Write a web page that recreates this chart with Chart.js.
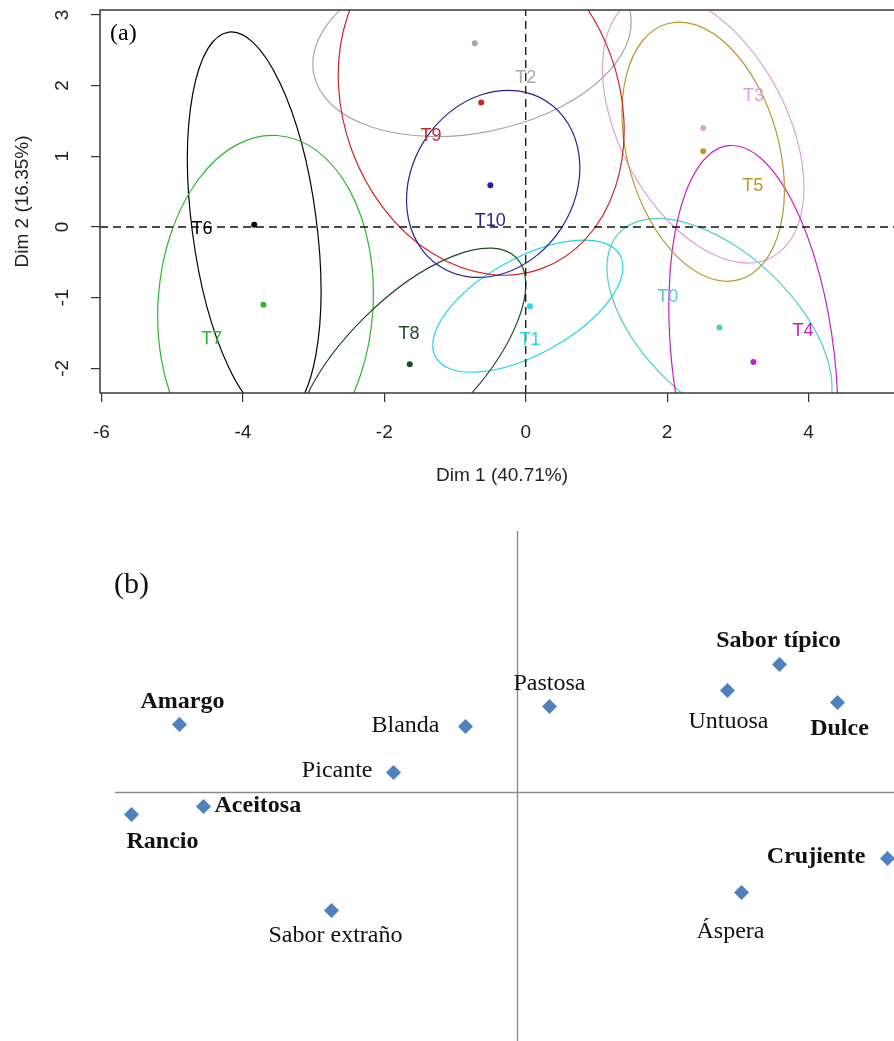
<!DOCTYPE html>
<html><head><meta charset="utf-8">
<script src="https://cdn.jsdelivr.net/npm/chart.js@4"></script>
<style>
html,body{margin:0;padding:0;background:#fff;overflow:hidden;width:894px;height:1041px;}
#wa{position:absolute;left:0;top:0;width:910px;height:500px;}
#wb{position:absolute;left:0;top:500px;width:894px;height:541px;}
</style></head><body>
<div id="wa"><canvas id="ca"></canvas></div>
<div id="wb"><canvas id="cb"></canvas></div>
<script>
// ---------------- Panel (a) data ----------------
const groups   = ['T0','T1','T2','T3','T4','T5','T6','T7','T8','T9','T10'];
const dim1     = [2.74, 0.06, -0.72, 2.51, 3.22, 2.51, -3.84, -3.71, -1.64, -0.63, -0.50];
const dim2     = [-1.42, -1.12, 2.60, 1.40, -1.91, 1.07, 0.03, -1.10, -1.94, 1.76, 0.59];
const labelDim1 = [2.01, 0.06, 0.00, 3.22, 3.92, 3.21, -4.58, -4.44, -1.65, -1.34, -0.50];
const labelDim2 = [-0.99, -1.60, 2.11, 1.85, -1.47, 0.58, -0.03, -1.59, -1.51, 1.28, 0.09];
// confidence ellipses: centre, semi-axes, orientation (deg)
const ellCx    = [2.74, 0.03, -0.76, 2.51, 3.22, 2.51, -3.84, -3.68, -1.64, -0.63, -0.46];
const ellCy    = [-1.42, -1.12, 2.60, 1.40, -1.91, 1.065, 0.03, -1.10, -1.94, 1.76, 0.61];
const ellA     = [1.95, 1.49, 2.28, 2.07, 3.08, 1.88, 2.75, 2.40, 2.13, 2.50, 1.39];
const ellB     = [1.05, 0.68, 1.27, 1.18, 1.15, 1.07, 0.88, 1.52, 0.92, 1.95, 1.15];
const ellAngle = [-43.3, 28.9, 11, 118, 96.6, 105.7, 97.5, 86, 45, 110, 57];
const groupColors = ['#4FCFC4','#22D8E6','#A8A8A8','#DDA0DD','#C81EC8','#B8982E','#000000','#2DB82D','#1F4A28','#CD2626','#22229A'];
const xTicks = [-6, -4, -2, 0, 2, 4];
const yTicks = [-2, -1, 0, 1, 2, 3];
const xRange = [-6.021, 5.35];
const yRange = [-2.348, 3.069];
const xTitle = 'Dim 1 (40.71%)';
const yTitle = 'Dim 2 (16.35%)';

// ---------------- Panel (b) data ----------------
const attributes = ['Amargo','Blanda','Picante','Aceitosa','Rancio','Sabor extraño','Pastosa','Untuosa','Sabor típico','Dulce','Crujiente','Áspera'];
const attrX = [-1.69, -0.26, -0.62, -1.57, -1.93, -0.93, 0.16, 1.05, 1.31, 1.60, 1.85, 1.12];
const attrY = [0.34, 0.33, 0.10, -0.07, -0.11, -0.59, 0.43, 0.51, 0.64, 0.45, -0.33, -0.50];
const attrBold = [true, false, false, true, true, false, false, false, true, true, true, false];
const bxRange = [-2.5875, 1.8825];
const byRange = [-1.2425, 1.4625];
const bAxisV = [1.3075, -1.2425];   // vertical axis line extent (y)
const bAxisH = [-2.0125, 1.8825];   // horizontal axis line extent (x)

// label placement (pixel offsets from marker, alignment)
const attrLabelPos = [
  [3,-17,'center'],[-26,5,'right'],[-21,4,'right'],[11,5,'left'],[-5,33,'left'],[4,31,'center'],
  [0,-17,'center'],[1,37,'center'],[-1,-18,'center'],[2,32,'center'],[-22,4,'right'],[-11,45,'center']
];

const SANS = "'Liberation Sans', Arial, Helvetica, sans-serif";
const SERIF = "'Liberation Serif', 'Times New Roman', Times, serif";

// ---------- Chart A ----------
const panelA = {
  id: 'panelA',
  beforeDatasetsDraw(chart) {
    const {ctx, chartArea: ca, scales: {x, y}} = chart;
    const sx = x.getPixelForValue(1) - x.getPixelForValue(0);
    const sy = y.getPixelForValue(0) - y.getPixelForValue(1);
    ctx.save();
    ctx.beginPath(); ctx.rect(ca.left, ca.top, ca.right - ca.left, ca.bottom - ca.top); ctx.clip();
    for (let i = 0; i < groups.length; i++) {
      ctx.save();
      ctx.translate(x.getPixelForValue(ellCx[i]), y.getPixelForValue(ellCy[i]));
      ctx.scale(sx, -sy);
      ctx.rotate(ellAngle[i] * Math.PI / 180);
      ctx.beginPath();
      ctx.ellipse(0, 0, ellA[i], ellB[i], 0, 0, Math.PI * 2);
      ctx.restore();
      ctx.strokeStyle = groupColors[i];
      ctx.lineWidth = 1.2;
      ctx.stroke();
    }
    ctx.restore();
  },
  afterDatasetsDraw(chart) {
    const {ctx, scales: {x, y}} = chart;
    ctx.save();
    ctx.font = '18px ' + SANS;
    ctx.textAlign = 'center'; ctx.textBaseline = 'middle';
    for (let i = 0; i < groups.length; i++) {
      ctx.fillStyle = groupColors[i];
      ctx.fillText(groups[i], x.getPixelForValue(labelDim1[i]), y.getPixelForValue(labelDim2[i]));
    }
    ctx.restore();
  },
  afterDraw(chart) {
    const {ctx, chartArea: ca, scales: {y}} = chart;
    ctx.save();
    ctx.strokeStyle = '#3a3a3a'; ctx.lineWidth = 1.5;
    ctx.strokeRect(ca.left, ca.top, ca.right - ca.left, ca.bottom - ca.top);
    ctx.fillStyle = '#222';
    ctx.font = '19px ' + SANS;
    ctx.textAlign = 'center'; ctx.textBaseline = 'middle';
    for (const v of yTicks) {
      ctx.save();
      ctx.translate(ca.left - 37, y.getPixelForValue(v));
      ctx.rotate(-Math.PI / 2);
      ctx.fillText(String(v), 0, 0);
      ctx.restore();
    }
    ctx.fillText(xTitle, (ca.left + ca.right) / 2, ca.bottom + 83);
    ctx.save();
    ctx.translate(ca.left - 77, (ca.top + ca.bottom) / 2);
    ctx.rotate(-Math.PI / 2);
    ctx.fillText(yTitle, 0, 0);
    ctx.restore();
    ctx.font = '24px ' + SERIF;
    ctx.fillStyle = '#000';
    ctx.textAlign = 'left';
    ctx.fillText('(a)', ca.left + 10, ca.top + 24);
    ctx.restore();
  }
};

new Chart(document.getElementById('ca'), {
  type: 'scatter',
  data: {
    datasets: [
      { type: 'line', data: [{x: xRange[0], y: 0}, {x: xRange[1], y: 0}], borderColor: '#111', borderWidth: 1.3, borderDash: [8, 5], pointRadius: 0, fill: false },
      { type: 'line', data: [{x: 0, y: yRange[0]}, {x: 0, y: yRange[1]}], borderColor: '#111', borderWidth: 1.3, borderDash: [8, 5], pointRadius: 0, fill: false },
      { data: groups.map((g, i) => ({x: dim1[i], y: dim2[i]})), pointRadius: 3, pointBackgroundColor: groupColors, pointBorderWidth: 0, showLine: false }
    ]
  },
  options: {
    responsive: true, maintainAspectRatio: false, animation: false, events: [],
    layout: { autoPadding: false, padding: { top: 10, right: 6, left: 0, bottom: 0 } },
    plugins: { legend: { display: false }, tooltip: { enabled: false } },
    scales: {
      x: {
        type: 'linear', min: xRange[0], max: xRange[1],
        afterBuildTicks: s => { s.ticks = xTicks.map(v => ({value: v})); },
        afterFit: s => { s.height = 107; },
        grid: { drawOnChartArea: false, drawTicks: true, tickLength: 9, color: '#333', lineWidth: 1.2 },
        border: { display: false },
        ticks: { font: { family: SANS, size: 19 }, color: '#222', padding: 19, maxRotation: 0 }
      },
      y: {
        type: 'linear', min: yRange[0], max: yRange[1],
        afterBuildTicks: s => { s.ticks = yTicks.map(v => ({value: v})); },
        afterFit: s => { s.width = 100; },
        grid: { drawOnChartArea: false, drawTicks: true, tickLength: 9, color: '#333', lineWidth: 1.2 },
        border: { display: false },
        ticks: { display: false }
      }
    }
  },
  plugins: [panelA]
});

// ---------- Chart B ----------
const panelB = {
  id: 'panelB',
  afterDatasetsDraw(chart) {
    const {ctx} = chart;
    const meta = chart.getDatasetMeta(2);
    ctx.save();
    ctx.fillStyle = '#111';
    ctx.textBaseline = 'alphabetic';
    meta.data.forEach((pt, i) => {
      const [dx, dy, al] = attrLabelPos[i];
      ctx.font = (attrBold[i] ? 'bold ' : '') + '24px ' + SERIF;
      ctx.textAlign = al;
      ctx.fillText(attributes[i], pt.x + dx, pt.y + dy);
    });
    ctx.font = '30px ' + SERIF;
    ctx.textAlign = 'left'; ctx.textBaseline = 'middle';
    ctx.fillText('(b)', 114, 85);
    ctx.restore();
  }
};

new Chart(document.getElementById('cb'), {
  type: 'scatter',
  data: {
    datasets: [
      { type: 'line', data: [{x: 0, y: bAxisV[0]}, {x: 0, y: bAxisV[1]}], borderColor: '#8c8c8c', borderWidth: 1.4, pointRadius: 0, fill: false, clip: false },
      { type: 'line', data: [{x: bAxisH[0], y: 0}, {x: bAxisH[1], y: 0}], borderColor: '#8c8c8c', borderWidth: 1.4, pointRadius: 0, fill: false, clip: false },
      { data: attributes.map((a, i) => ({x: attrX[i], y: attrY[i]})), pointStyle: 'rectRot', pointRadius: 7.5, pointBackgroundColor: '#4F81BD', pointBorderWidth: 0, showLine: false, clip: false }
    ]
  },
  options: {
    responsive: true, maintainAspectRatio: false, animation: false, events: [],
    layout: { autoPadding: false, padding: 0 },
    plugins: { legend: { display: false }, tooltip: { enabled: false } },
    scales: {
      x: { type: 'linear', display: false, min: bxRange[0], max: bxRange[1] },
      y: { type: 'linear', display: false, min: byRange[0], max: byRange[1] }
    }
  },
  plugins: [panelB]
});
</script>
</body></html>
